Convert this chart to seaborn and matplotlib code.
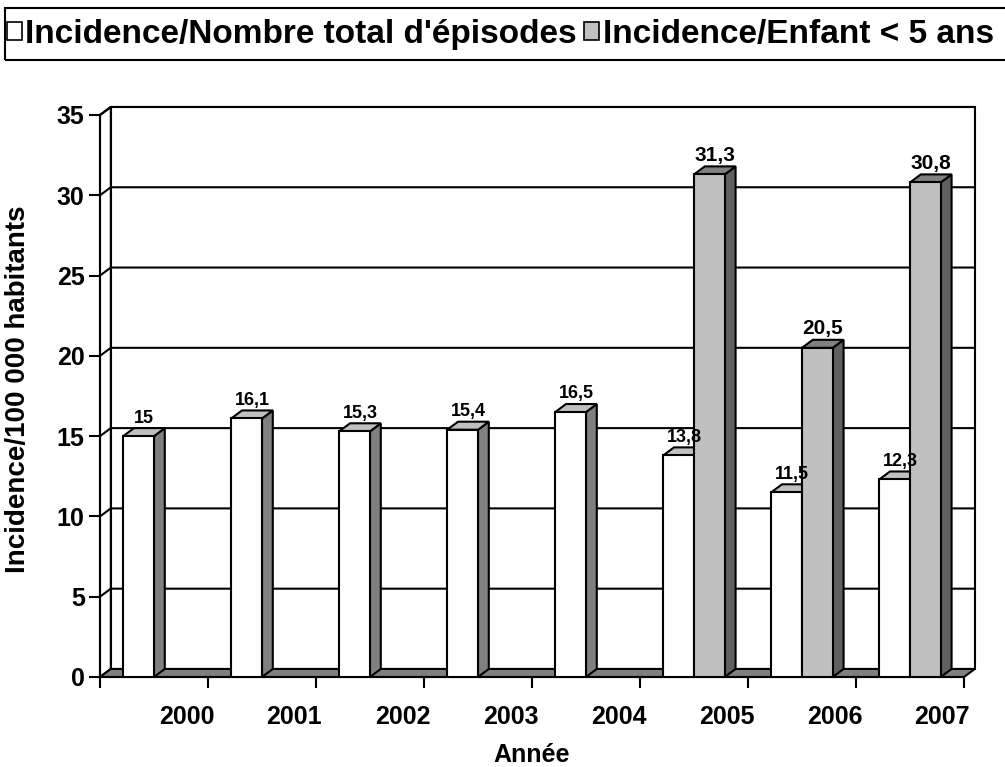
import numpy as np
import pandas as pd
import matplotlib
matplotlib.use("Agg")
import matplotlib.pyplot as plt
from matplotlib.patches import Polygon, Patch, Rectangle
import seaborn as sns

# donnees
annees = ["2000", "2001", "2002", "2003", "2004", "2005", "2006", "2007"]
total_episodes = [15, 16.1, 15.3, 15.4, 16.5, 13.8, 11.5, 12.3]
enfant_5ans = [np.nan, np.nan, np.nan, np.nan, np.nan, 31.3, 20.5, 30.8]
series = ["Incidence/Nombre total d'épisodes", "Incidence/Enfant < 5 ans"]

df = pd.DataFrame({
    "Année": annees * 2,
    "Incidence": total_episodes + enfant_5ans,
    "Série": [series[0]] * len(annees) + [series[1]] * len(annees),
}).dropna()

sns.set_style("white")
plt.rcParams["font.family"] = ["Liberation Sans", "DejaVu Sans"]
plt.rcParams["font.weight"] = "bold"
for k in ["text.color", "axes.labelcolor", "xtick.color", "ytick.color"]:
    plt.rcParams[k] = "black"

# couleurs face avant / dessus / cote
faces = [("white", "#c0c0c0", "#808080"), ("#c0c0c0", "#808080", "#606060")]
lab_size = [13, 15]

fig = plt.figure(figsize=(10.05, 7.67), dpi=100)
ax = fig.add_axes([100 / 1005, 90 / 767, 864 / 1005, 562 / 767])
ax.patch.set_visible(False)

sns.barplot(data=df, x="Année", y="Incidence", hue="Série", order=annees,
            hue_order=series, palette=[faces[0][0], faces[1][0]], saturation=1,
            width=0.57, edgecolor="black", linewidth=1.5, legend=False, ax=ax)

ax.set_xlim(-0.5, 7.5)
ax.set_ylim(0, 35)
dx, dy = 0.10, 0.5  # profondeur de l'effet 3D
x0, x1 = ax.get_xlim()
ytop = ax.get_ylim()[1]

# parois (fond + cote gauche) et sol
ax.add_patch(Polygon([(x0 + dx, dy), (x1 + dx, dy), (x1 + dx, ytop + dy), (x0 + dx, ytop + dy)],
                     closed=True, fc="white", ec="black", lw=1.5, zorder=0.5, clip_on=False))
ax.add_patch(Polygon([(x0, 0), (x0 + dx, dy), (x0 + dx, ytop + dy), (x0, ytop)],
                     closed=True, fc="white", ec="black", lw=1.5, zorder=0.6, clip_on=False))
for v in np.arange(5, 36, 5):
    ax.plot([x0, x0 + dx, x1 + dx], [v, v + dy, v + dy], color="black", lw=1.5,
            zorder=1, clip_on=False, solid_joinstyle="miter")
ax.add_patch(Polygon([(x0, 0), (x1, 0), (x1 + dx, dy), (x0 + dx, dy)],
                     closed=True, fc="#808080", ec="black", lw=1.5, zorder=1.5, clip_on=False))

# barres en 3D
for k, cont in enumerate(ax.containers):
    for bar in cont:
        h = bar.get_height()
        if np.isnan(h):
            continue
        x, w = bar.get_x(), bar.get_width()
        bar.set_zorder(3 + 2 * k)
        ax.add_patch(Polygon([(x + w, 0), (x + w + dx, dy), (x + w + dx, h + dy), (x + w, h)],
                             closed=True, fc=faces[k][2], ec="black", lw=1.5, zorder=2.9 + 2 * k,
                             clip_on=False))
        ax.add_patch(Polygon([(x, h), (x + dx, h + dy), (x + w + dx, h + dy), (x + w, h)],
                             closed=True, fc=faces[k][1], ec="black", lw=1.5, zorder=2.9 + 2 * k,
                             clip_on=False))
        txt = f"{h:g}".replace(".", ",")
        ax.text(x + (w + dx) / 2, h + dy + 0.1, txt, ha="center", va="bottom",
                fontsize=lab_size[k], fontweight="bold", zorder=10)

# axes
for s in ["top", "right"]:
    ax.spines[s].set_visible(False)
for s in ["left", "bottom"]:
    ax.spines[s].set_linewidth(1.5)
    ax.spines[s].set_color("black")

ax.set_yticks(np.arange(0, 36, 5))
ax.tick_params(axis="y", direction="out", length=8, width=1.5, labelsize=18, pad=3, left=True)
ax.set_xticks(np.arange(x0, x1 + 0.1, 1))
ax.set_xticklabels([])
ax.set_xticks(np.arange(len(annees)) + 0.3, minor=True)
ax.set_xticklabels(annees, minor=True)
ax.tick_params(axis="x", which="major", direction="out", length=8, width=1.5, bottom=True)
ax.tick_params(axis="x", which="minor", length=0, labelsize=18, pad=20)
for t in ax.get_xticklabels(minor=True) + ax.get_yticklabels():
    t.set_fontweight("bold")

ax.set_xlabel("Année", fontsize=18, fontweight="bold")
ax.xaxis.set_label_coords(0.5, -0.117)
ax.set_ylabel("Incidence/100 000 habitants", fontsize=20, fontweight="bold")
ax.yaxis.set_label_coords(-0.08, 0.512)

# legende : cadre qui deborde a droite comme dans l'original
fig.add_artist(Rectangle((5 / 1005, 1 - 60 / 767), 1.0, 52 / 767, transform=fig.transFigure,
                         fill=False, ec="black", lw=1.5, clip_on=False))
handles = [Patch(fc=faces[0][0], ec="black", lw=1.2), Patch(fc=faces[1][0], ec="black", lw=1.2)]
leg = fig.legend(handles, series, loc="center left", bbox_to_anchor=(7 / 1005, 1 - 34 / 767),
                 ncol=2, frameon=False, prop={"size": 24, "weight": "bold"},
                 handlelength=0.45, handleheight=0.45, handletextpad=0.1,
                 columnspacing=0.22, borderpad=0, borderaxespad=0)

fig.savefig("out.png", dpi=100)
